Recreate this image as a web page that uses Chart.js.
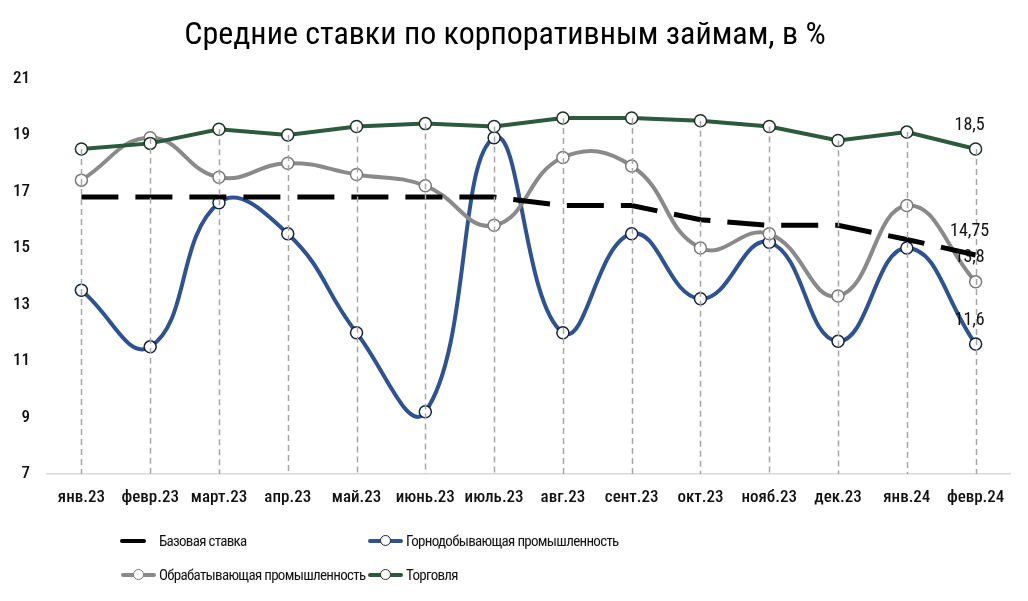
<!DOCTYPE html>
<html lang="ru">
<head>
<meta charset="utf-8">
<title>Средние ставки по корпоративным займам</title>
<script src="https://cdn.jsdelivr.net/npm/chart.js@4.4.1/dist/chart.umd.min.js"></script>
<style>
    html, body { margin: 0; padding: 0; background: #fff; }
    #wrap { position: relative; width: 1028px; height: 601px; }
    #legend { position: absolute; left: 0; top: 0; width: 1028px; height: 601px; pointer-events: none;
              font-family: "Roboto Condensed", "Roboto", sans-serif; font-size: 15px; letter-spacing: -0.7px; color: #111; }
    .item { position: absolute; height: 20px; display: flex; align-items: center; white-space: nowrap; }
    .sw { position: relative; height: 20px; }
    .sw .ln { position: absolute; left: 0; right: 0; top: 8px; height: 4px; border-radius: 2px; }
    .sw .dot { position: absolute; left: 50%; top: 4px; width: 9px; height: 9px; margin-left: -6px;
               border-radius: 50%; background: #fff; border: 1.5px solid #333; }
</style>
</head>
<body>
<div id="wrap">
    <canvas id="chart" width="1028" height="601"></canvas>
    <div id="legend"></div>
</div>
<script>
// data
const months = ["янв.23", "февр.23", "март.23", "апр.23", "май.23", "июнь.23", "июль.23",
                "авг.23", "сент.23", "окт.23", "нояб.23", "дек.23", "янв.24", "февр.24"];
const baseRate  = [16.8, 16.8, 16.8, 16.8, 16.8, 16.8, 16.8, 16.5, 16.5, 16.0, 15.8, 15.8, 15.3, 14.75];
const mining    = [13.5, 11.5, 16.6, 15.5, 12.0, 9.2, 18.9, 12.0, 15.5, 13.2, 15.2, 11.7, 15.0, 11.6];
const manufact  = [17.4, 18.9, 17.5, 18.0, 17.6, 17.2, 15.8, 18.2, 17.9, 15.0, 15.5, 13.3, 16.5, 13.8];
const trade     = [18.5, 18.7, 19.2, 19.0, 19.3, 19.4, 19.3, 19.6, 19.6, 19.5, 19.3, 18.8, 19.1, 18.5];
const yTicks    = [7, 9, 11, 13, 15, 17, 19, 21];

const FONT = "'Roboto Condensed', Roboto, sans-serif";

// vertical drop lines from the highest point down to the axis
const dropLines = {
    id: "dropLines",
    afterDatasetsDraw(chart)
    {
        let ctx = chart.ctx;
        let xs = chart.scales.x, ys = chart.scales.y;
        ctx.save();
        ctx.strokeStyle = "#a6a6a6";
        ctx.lineWidth = 1.5;
        ctx.setLineDash([6, 4]);
        months.forEach((m, i) =>
        {
            let top = Math.max(...chart.data.datasets.filter(d => d.pointRadius > 0).map(d => d.data[i]));
            let x = Math.round(xs.getPixelForValue(i)) + 0.5;
            ctx.beginPath();
            ctx.moveTo(x, ys.getPixelForValue(top));
            ctx.lineTo(x, chart.chartArea.bottom);
            ctx.stroke();
        });
        ctx.restore();
    }
};

// value labels on the last point of every series
const lastLabels = {
    id: "lastLabels",
    afterDraw(chart)
    {
        let ctx = chart.ctx;
        ctx.save();
        ctx.font = "18px " + FONT;
        ctx.fillStyle = "#111";
        ctx.textAlign = "center";
        ctx.textBaseline = "middle";
        chart.data.datasets.forEach((d, di) =>
        {
            let meta = chart.getDatasetMeta(di);
            let p = meta.data[meta.data.length - 1];
            let v = d.data[d.data.length - 1];
            ctx.fillText(String(v).replace(".", ","), p.x - 6, p.y - 24);
        });
        ctx.restore();
    }
};

function series(label, data, color, border, smooth)
{
    return {
        label: label,
        data: data,
        borderColor: color,
        borderWidth: 4,
        tension: smooth ? 0.45 : 0,
        pointRadius: 6,
        pointBorderWidth: 1.5,
        pointBorderColor: border,
        pointBackgroundColor: "#fff",
        fill: false
    };
}

let datasets = [
    series("Торговля", trade, "#2b5a3c", "#1e3326", false),
    {
        label: "Базовая ставка",
        data: baseRate,
        borderColor: "#000",
        borderWidth: 5,
        borderDash: [37, 17],
        tension: 0,
        pointRadius: 0,
        fill: false
    },
    series("Обрабатывающая промышленность", manufact, "#8a8a8a", "#7a7a7a", true),
    series("Горнодобывающая промышленность", mining, "#2f5291", "#15233f", true)
];

let chart = new Chart(document.getElementById("chart").getContext("2d"),
{
    type: "line",
    data: { labels: months, datasets: datasets },
    options:
    {
        responsive: false,
        animation: false,
        layout: { padding: { left: 0, right: 18, top: 0, bottom: 0 } },
        plugins:
        {
            legend: { display: false },
            tooltip: { enabled: false },
            title:
            {
                display: true,
                text: "Средние ставки по корпоративным займам, в %",
                color: "#000",
                font: { family: FONT, size: 32, weight: "normal" },
                padding: { top: 17, bottom: 23 }
            }
        },
        scales:
        {
            x:
            {
                offset: true,
                grid: { display: false, drawTicks: false, offset: true },
                border: { display: true, color: "#d9d9d9", width: 1.5 },
                ticks: { color: "#111", font: { family: FONT, size: 17, weight: "500" }, padding: 14,
                         maxRotation: 0, autoSkip: false },
                afterFit(s) { s.height = 127; }
            },
            y:
            {
                min: 7, max: 21,
                afterBuildTicks(s) { s.ticks = yTicks.map(v => ({ value: v })); },
                grid: { display: false, drawTicks: false },
                border: { display: false },
                ticks: { color: "#111", font: { family: FONT, size: 17, weight: "500" }, padding: 17 },
                afterFit(s) { s.width = 47; }
            }
        }
    },
    plugins: [dropLines, lastLabels]
});

// html legend laid out as a two-column grid
const legendItems = [
    { text: "Базовая ставка", color: "#000", marker: false, x: 120, y: 531, w: 26, gap: 13 },
    { text: "Горнодобывающая промышленность", color: "#2f5291", border: "#15233f", marker: true, x: 368, y: 531, w: 35, gap: 3 },
    { text: "Обрабатывающая промышленность", color: "#8a8a8a", border: "#7a7a7a", marker: true, x: 121, y: 565, w: 35, gap: 3 },
    { text: "Торговля", color: "#2b5a3c", border: "#1e3326", marker: true, x: 368, y: 565, w: 35, gap: 3 }
];
let legend = document.getElementById("legend");
legendItems.forEach(it =>
{
    let el = document.createElement("div");
    el.className = "item";
    el.style.left = it.x + "px";
    el.style.top = it.y + "px";
    let sw = document.createElement("div");
    sw.className = "sw";
    sw.style.width = it.w + "px";
    sw.style.marginRight = it.gap + "px";
    sw.innerHTML = '<div class="ln" style="background:' + it.color + '"></div>' +
        (it.marker ? '<div class="dot" style="border-color:' + it.border + '"></div>' : "");
    el.appendChild(sw);
    let t = document.createElement("span");
    t.textContent = it.text;
    el.appendChild(t);
    legend.appendChild(el);
});
</script>
</body>
</html>
